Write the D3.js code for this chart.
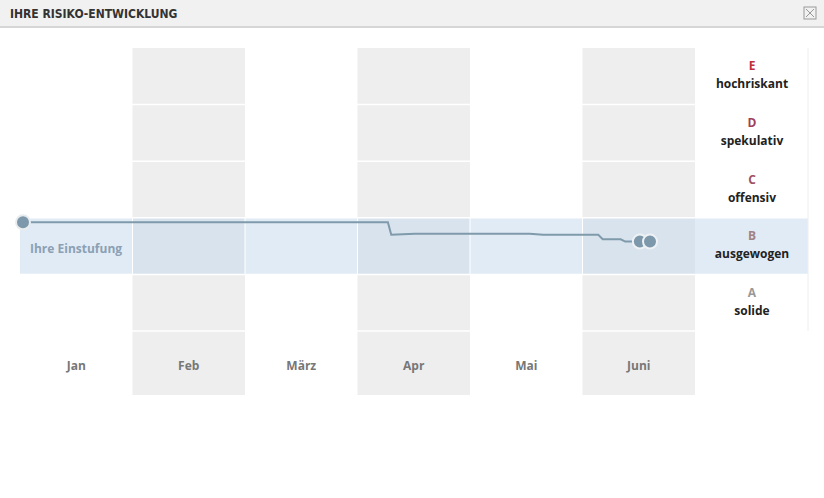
<!DOCTYPE html><html><head><meta charset="utf-8"><script src="https://cdn.jsdelivr.net/npm/d3@7"></script>
<style>body{margin:0;background:#fff;font-family:"Open Sans",sans-serif}</style></head><body><svg id="c" width="824" height="498"></svg>
<script>
const months=["Jan","Feb","März","Apr","Mai","Juni"];
const levels=["A","B","C","D","E"];
const levelNames=["solide","ausgewogen","offensiv","spekulativ","hochriskant"];
const levelColors=["#999999","#a08282","#a0505f","#a0405a","#c0303a"];
// t in months since start of Jan, score: 1=A ... 5=E
const lineT=[0.02,3.27,3.3,3.51,4.53,4.65,5.14,5.18,5.34,5.38,5.46];
const lineS=[2.42,2.42,2.2,2.22,2.22,2.2,2.2,2.12,2.12,2.08,2.08];
const pointT=[5.51,5.6];
const pointS=[2.08,2.08];
const current=2;

const svg=d3.select("#c");
svg.append("rect").attr("x",0).attr("y",0).attr("width",824).attr("height",27).attr("fill","#f1f1f1");
svg.append("line").attr("x1",0).attr("x2",824).attr("y1",27).attr("y2",27).attr("stroke","#d6d6d6").attr("stroke-width",2);
svg.append("text").attr("x",10).attr("y",18).text("IHRE RISIKO-ENTWICKLUNG").attr("font-family","'Liberation Sans Narrow','DejaVu Sans Condensed',sans-serif").attr("font-weight","bold").attr("font-size",12).attr("fill","#333");
const cb=svg.append("g").attr("transform","translate(804,7)");
cb.append("rect").attr("width",12).attr("height",12).attr("fill","none").attr("stroke","#999");
cb.append("path").attr("d","M2,2L10,10M10,2L2,10").attr("stroke","#999");

const x=d3.scaleLinear().domain([0,6]).range([20,695]);
const colX=d3.scaleBand().domain(months).range([20,695]);
const y=d3.scaleLinear().domain([0.5,5.5]).range([331,48]);
// gray columns
svg.selectAll(".col").data(months.filter((m,i)=>i%2==1)).join("rect")
 .attr("x",d=>colX(d)).attr("width",colX.bandwidth()).attr("y",48).attr("height",347).attr("fill","#eeeeee");
// current band
svg.append("rect").attr("x",20).attr("width",788).attr("y",y(current+0.5)).attr("height",y(current-0.5)-y(current+0.5)).attr("fill","#c8daee").attr("opacity",0.55);
// row separators
svg.selectAll(".sep").data([1.5,2.5,3.5,4.5]).join("line").attr("x1",20).attr("x2",808).attr("y1",d=>y(d)).attr("y2",d=>y(d)).attr("stroke","#fff").attr("stroke-width",1.5);
svg.append("line").attr("x1",20).attr("x2",695).attr("y1",y(0.5)).attr("y2",y(0.5)).attr("stroke","#fff").attr("stroke-width",1.5);
svg.selectAll(".vsep").data(months.slice(1)).join("line").attr("x1",d=>colX(d)).attr("x2",d=>colX(d)).attr("y1",y(current+0.5)).attr("y2",y(current-0.5)).attr("stroke","#fff");
svg.append("line").attr("x1",808).attr("x2",808).attr("y1",48).attr("y2",331).attr("stroke","#eee");
svg.append("text").attr("x",30).attr("y",y(current)+7).text("Ihre Einstufung").attr("font-weight","bold").attr("font-size",12).attr("fill","#8ba0b3");
// month labels
svg.selectAll(".ml").data(months).join("text").attr("x",d=>colX(d)+colX.bandwidth()/2).attr("y",370).attr("text-anchor","middle").text(d=>d).attr("font-weight","bold").attr("font-size",12).attr("fill","#777");
// level labels
levels.forEach((l,i)=>{
 svg.append("text").attr("x",752).attr("y",y(i+1)-6).attr("text-anchor","middle").text(l).attr("font-size",12).attr("font-weight","bold").attr("fill",levelColors[i]);
 svg.append("text").attr("x",752).attr("y",y(i+1)+12).attr("text-anchor","middle").text(levelNames[i]).attr("font-size",12).attr("font-weight","bold").attr("fill","#222");
});
// line
const pts=lineT.map((t,i)=>[t,lineS[i]]);
svg.append("path").attr("d",d3.line().x(d=>x(d[0])).y(d=>y(d[1]))(pts)).attr("fill","none").attr("stroke","#7f9aab").attr("stroke-width",2);
svg.append("circle").attr("cx",x(0)+3).attr("cy",y(lineS[0])).attr("r",7).attr("fill","#7d98aa").attr("stroke","#e8ecef").attr("stroke-width",2);
svg.selectAll(".pt").data(pointT).join("circle").attr("cx",d=>x(d)).attr("cy",(d,i)=>y(pointS[i])).attr("r",7).attr("fill","#7d98aa").attr("stroke","#eef2f5").attr("stroke-width",2);
</script></body></html>
